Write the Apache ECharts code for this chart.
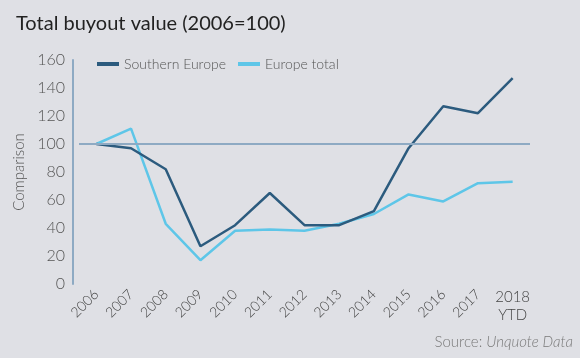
<!DOCTYPE html>
<html><head><meta charset="utf-8">
<script src="https://cdn.jsdelivr.net/npm/echarts@6/dist/echarts.min.js"></script>
<style>html,body{margin:0;padding:0;background:#dfe0e5}#c{width:580px;height:358px}</style>
</head><body><div id="c"></div>
<script>
const categories = ['2006','2007','2008','2009','2010','2011','2012','2013','2014','2015','2016','2017','2018\nYTD'];
const southernEurope = [100,97,82,27,42,65,42,42,52,97,127,122,147];
const europeTotal = [100,111,43,17,38,39,38,43,50,64,59,72,73];
const yTicks = [0,20,40,60,80,100,120,140,160];

const chart = echarts.init(document.getElementById('c'));
const font = 'Lato, "Open Sans", sans-serif';
chart.setOption({
  backgroundColor: '#dfe0e5',
  animation: false,
  title: {
    text: 'Total buyout value (2006=100)', left: 11, top: 9,
    textStyle: {fontFamily: font, fontSize: 20, fontWeight: 'normal', color: '#222'}
  },
  legend: {
    left: 92, top: 52, itemWidth: 22, itemHeight: 4, itemGap: 12,
    icon: 'rect',
    textStyle: {fontFamily: font, fontSize: 14, fontWeight: 300, color: '#555'},
    data: ['Southern Europe','Europe total']
  },
  graphic: [{
    type: 'text', right: 7, bottom: 8,
    style: {
      text: '{a|Source: }{b|Unquote Data}',
      rich: {
        a: {fontFamily: font, fontSize: 15, fontWeight: 300, fill: '#7a7a7a'},
        b: {fontFamily: font, fontSize: 15, fontWeight: 300, fontStyle: 'italic', fill: '#7a7a7a'}
      }
    }
  }],
  grid: {left: 79, right: 50, top: 60, bottom: 74},
  xAxis: [{
    type: 'category', data: categories, boundaryGap: true,
    axisLine: {show: false}, axisTick: {show: false},
    axisLabel: {
      rotate: 45, interval: 0, margin: 8,
      fontFamily: font, fontSize: 14, fontWeight: 300, color: '#444',
      formatter: (v, i) => i === categories.length - 1 ? '' : v
    }
  }, {
    type: 'category', data: categories, boundaryGap: true, position: 'bottom',
    axisLine: {show: false}, axisTick: {show: false},
    axisLabel: {
      rotate: 0, interval: 0, margin: 4, lineHeight: 18,
      fontFamily: font, fontSize: 15, fontWeight: 300, color: '#444',
      formatter: (v, i) => i === categories.length - 1 ? v : ''
    }
  }],
  yAxis: {
    type: 'value', min: 0, max: 160, interval: 20, offset: 6,
    name: 'Comparison', nameLocation: 'middle', nameGap: 44,
    nameTextStyle: {fontFamily: font, fontSize: 15, fontWeight: 300, color: '#555'},
    axisLine: {show: true, lineStyle: {color: '#8eaac3', width: 2}},
    axisTick: {show: false}, splitLine: {show: false},
    axisLabel: {
      fontFamily: font, fontSize: 16, fontWeight: 300, color: '#555', margin: 8,
      formatter: v => yTicks.includes(v) ? String(v) : ''
    }
  },
  series: [{
    name: 'Southern Europe', type: 'line', data: southernEurope,
    symbol: 'none', lineStyle: {color: '#2c5b7e', width: 2.5}, itemStyle: {color: '#2c5b7e'},
    z: 3,
    markLine: {
      silent: true, symbol: 'none', label: {show: false},
      lineStyle: {color: '#8eaac3', width: 2, type: 'solid'},
      data: [{yAxis: 100}]
    }
  }, {
    name: 'Europe total', type: 'line', data: europeTotal,
    symbol: 'none', lineStyle: {color: '#5ec6e8', width: 2.5}, itemStyle: {color: '#5ec6e8'},
    z: 2
  }]
});
</script></body></html>
